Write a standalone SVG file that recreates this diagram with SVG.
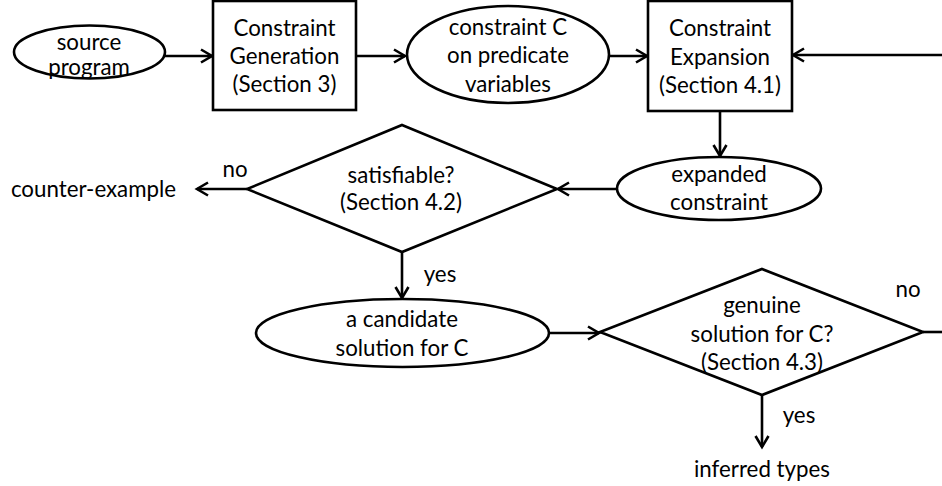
<svg xmlns="http://www.w3.org/2000/svg" width="942" height="486" viewBox="0 0 942 486">
<style>
.s{fill:#fff;stroke:#000;stroke-width:2.6}
.c{fill:none;stroke:#000;stroke-width:2.6}
text{font-family:Lato,"Liberation Sans",sans-serif;font-size:22.3px;fill:#000;text-anchor:middle}
</style>
<defs>
<marker id="ah" markerUnits="userSpaceOnUse" markerWidth="16" markerHeight="16" viewBox="-13 -8 16 16" refX="0" refY="0" orient="auto">
<path d="M-11,-6.5 L0,0 L-11,6.5" fill="none" stroke="#000" stroke-width="2.6"/>
</marker>
</defs>
<rect width="942" height="486" fill="#fff"/>
<g id="connectors">
<line class="c" x1="165" y1="56" x2="212" y2="56" marker-end="url(#ah)"/>
<line class="c" x1="356" y1="56" x2="405" y2="56" marker-end="url(#ah)"/>
<line class="c" x1="609" y1="56" x2="647" y2="56" marker-end="url(#ah)"/>
<line class="c" x1="942" y1="55" x2="793" y2="55" marker-end="url(#ah)"/>
<line class="c" x1="720" y1="111" x2="720" y2="156" marker-end="url(#ah)"/>
<line class="c" x1="617" y1="189" x2="558" y2="189" marker-end="url(#ah)"/>
<line class="c" x1="247" y1="189" x2="197" y2="189" marker-end="url(#ah)"/>
<line class="c" x1="402" y1="252" x2="402" y2="298" marker-end="url(#ah)"/>
<line class="c" x1="549" y1="333" x2="599" y2="333" marker-end="url(#ah)"/>
<line class="c" x1="923" y1="332" x2="942" y2="332"/>
<line class="c" x1="762" y1="395" x2="762" y2="447" marker-end="url(#ah)"/>
<text x="235" y="177">no</text>
<text x="440" y="282">yes</text>
<text x="908" y="297">no</text>
<text x="799" y="423">yes</text>
</g>
<g id="source">
<ellipse class="s" cx="89.5" cy="52" rx="75.5" ry="26.5"/>
<text x="89" y="50">source</text>
<text x="89" y="75">program</text>
</g>
<g id="gen">
<rect class="s" x="213" y="1" width="143" height="109"/>
<text x="284.5" y="36">Constraint</text>
<text x="284.5" y="64">Generation</text>
<text x="284.5" y="92">(Section 3)</text>
</g>
<g id="constraintC">
<ellipse class="s" cx="508" cy="54.5" rx="101" ry="48.5"/>
<text x="508" y="35">constraint C</text>
<text x="508" y="63">on predicate</text>
<text x="508" y="92">variables</text>
</g>
<g id="expansion">
<rect class="s" x="648" y="1" width="144" height="110"/>
<text x="720" y="36">Constraint</text>
<text x="720" y="65">Expansion</text>
<text x="720" y="93">(Section 4.1)</text>
</g>
<g id="expanded">
<ellipse class="s" cx="719" cy="188.5" rx="102" ry="31.5"/>
<text x="719" y="182">expanded</text>
<text x="719" y="210">constraint</text>
</g>
<g id="sat">
<polygon class="s" points="402,125 557,189 402,252 247,189"/>
<text x="401" y="183">satisfiable?</text>
<text x="401" y="210">(Section 4.2)</text>
</g>
<g id="counter">
<text x="93.5" y="197">counter-example</text>
</g>
<g id="candidate">
<ellipse class="s" cx="402.5" cy="333" rx="146.5" ry="34"/>
<text x="402" y="327">a candidate</text>
<text x="402" y="356">solution for C</text>
</g>
<g id="genuine">
<polygon class="s" points="762,269 923,332 762,395 600,332"/>
<text x="762" y="313">genuine</text>
<text x="762" y="342">solution for C?</text>
<text x="762" y="370">(Section 4.3)</text>
</g>
<g id="inferred">
<text x="762" y="477">inferred types</text>
</g>
</svg>
